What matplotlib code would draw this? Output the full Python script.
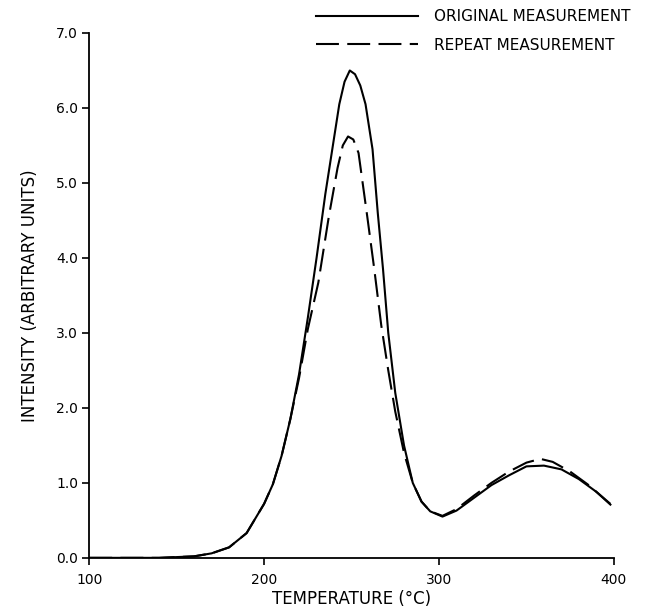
import matplotlib
matplotlib.use('Agg')
from matplotlib import pyplot as plt

plt.rcParams['font.family'] = ['DejaVu Sans']

# original measurement (solid)
temp_orig = [100, 110, 120, 130, 140, 150, 160, 170, 180, 190, 200, 205, 210, 215,
             220, 225, 230, 235, 240, 243, 246, 249, 252, 255, 258, 262, 265, 268,
             271, 275, 280, 285, 290, 295, 302, 310, 320, 330, 340, 350, 360, 370,
             380, 390, 398]
int_orig = [0.0, 0.0, 0.0, 0.0, 0.0, 0.01, 0.02, 0.06, 0.14, 0.33, 0.72, 0.98, 1.36, 1.85,
            2.45, 3.2, 4.0, 4.85, 5.6, 6.05, 6.35, 6.5, 6.45, 6.3, 6.05, 5.45, 4.6, 3.85,
            3.0, 2.2, 1.5, 1.0, 0.75, 0.62, 0.55, 0.63, 0.8, 0.97, 1.1, 1.22, 1.23, 1.18,
            1.05, 0.88, 0.71]

# repeat measurement (dashed)
temp_rep = [100, 110, 120, 130, 140, 150, 160, 170, 180, 190, 200, 205, 210, 215,
            220, 225, 231, 237, 242, 245, 248, 251, 254, 259, 263, 267, 271, 275,
            280, 285, 290, 295, 302, 310, 320, 330, 340, 350, 358, 365, 375, 385, 398]
int_rep = [0.0, 0.0, 0.0, 0.0, 0.0, 0.01, 0.02, 0.06, 0.14, 0.33, 0.72, 0.98, 1.36, 1.85,
           2.4, 3.05, 3.67, 4.55, 5.2, 5.5, 5.62, 5.58, 5.4, 4.55, 3.85, 3.1, 2.5, 1.95,
           1.4, 1.0, 0.75, 0.62, 0.56, 0.65, 0.83, 1.0, 1.15, 1.27, 1.32, 1.28, 1.15, 0.98, 0.72]

x_ticks = [100, 200, 300, 400]
y_ticks = [0, 1, 2, 3, 4, 5, 6, 7]

fig = plt.figure(figsize=(6.51, 6.11), dpi=100)
ax = fig.add_axes([0.137, 0.087, 0.806, 0.859])

ax.plot(temp_orig, int_orig, color='black', lw=1.5, label='ORIGINAL MEASUREMENT')
ax.plot(temp_rep, int_rep, color='black', lw=1.5, dashes=(11, 4), label='REPEAT MEASUREMENT')

ax.set_xlim(100, 400)
ax.set_ylim(0, 7)
ax.set_xticks(x_ticks)
ax.set_xticklabels([str(t) for t in x_ticks])
ax.set_yticks(y_ticks)
ax.set_yticklabels(['%.1f' % v for v in y_ticks])

for s in ['top', 'right']:
    ax.spines[s].set_visible(False)
for s in ['left', 'bottom']:
    ax.spines[s].set_linewidth(1.3)
ax.tick_params(axis='both', direction='out', length=5, width=1.2, labelsize=10)
ax.tick_params(axis='y', pad=3)
ax.tick_params(axis='x', pad=6)

ax.set_xlabel('TEMPERATURE (°C)', fontsize=12, labelpad=2)
ax.set_ylabel('INTENSITY (ARBITRARY UNITS)', fontsize=12, labelpad=12)

fig.legend(loc='upper right', bbox_to_anchor=(0.99, 1.008), frameon=False,
           handlelength=6.7, handletextpad=1.05, fontsize=11, labelspacing=0.9)

plt.savefig('out.png', dpi=100)
